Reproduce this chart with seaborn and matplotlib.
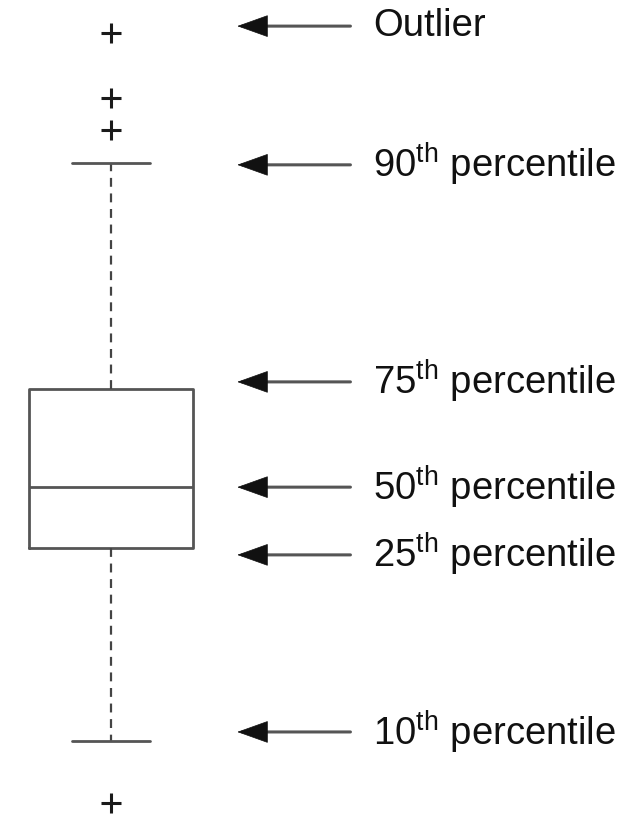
import matplotlib
matplotlib.use("Agg")
import matplotlib.pyplot as plt
import seaborn as sns

# box plot statistics (value scale 0-100)
whislo = 9.2
q1 = 32.8
med = 40.3
q3 = 52.3
whishi = 80.0
fliers = [96.0, 88.0, 84.1, 1.6]

labels = ["Outlier", "90$^{th}$ percentile", "75$^{th}$ percentile",
          "50$^{th}$ percentile", "25$^{th}$ percentile", "10$^{th}$ percentile"]
targets = [fliers[0], whishi, q3, med, q1, whislo]
nudge = [0.8, -0.2, 0.9, 0.0, -0.8, 1.1]  # small vertical shift of the arrows

sns.set_theme(style="white")
plt.rcParams["font.family"] = ["Liberation Sans", "DejaVu Sans"]
plt.rcParams["mathtext.default"] = "regular"

fig = plt.figure(figsize=(6.31, 8.16), dpi=100)
ax = fig.add_axes([0, 0, 1, 1])

stats = [dict(whislo=whislo, q1=q1, med=med, q3=q3, whishi=whishi, fliers=fliers)]
ax.bxp(stats, positions=[0], widths=1.0, capwidths=0.48, showfliers=True,
       boxprops=dict(color="#555555", lw=2),
       medianprops=dict(color="#555555", lw=2),
       whiskerprops=dict(color="#444444", lw=1.6, linestyle=(0, (4, 3))),
       capprops=dict(color="#555555", lw=2),
       flierprops=dict(marker="+", markersize=14, markeredgewidth=2.2,
                       markeredgecolor="#1a1a1a"))

for lab, t, dy in zip(labels, targets, nudge):
    y = t + dy
    # shaft (grey) and head (black)
    ax.annotate("", xy=(0.80, y), xytext=(1.46, y),
                arrowprops=dict(arrowstyle="-", lw=2.2, color="#555555",
                                shrinkA=0, shrinkB=0))
    ax.annotate("", xy=(0.77, y), xytext=(0.92, y),
                arrowprops=dict(arrowstyle="-|>,head_length=0.95,head_width=0.34",
                                mutation_scale=22, lw=0.5, color="#111111",
                                shrinkA=0, shrinkB=0))
    ax.text(1.6, y, lab, fontsize=27.5, va="center", ha="left", color="#111111")

ax.set_xlim(-111 / 164, 520 / 164)
ax.set_ylim(0, 100)
ax.axis("off")

fig.savefig("out.png", dpi=100, facecolor="white")
